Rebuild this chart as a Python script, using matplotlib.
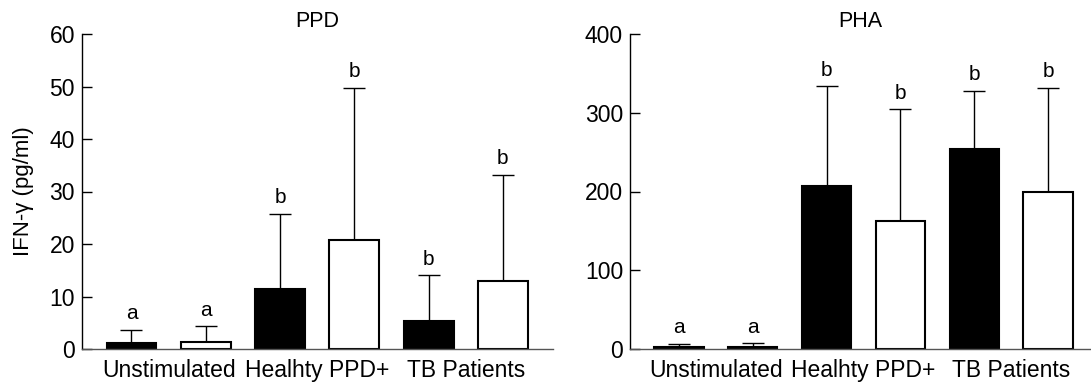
import matplotlib
matplotlib.use("Agg")
import matplotlib.pyplot as plt
import numpy as np

plt.rcParams['font.family'] = ['Liberation Sans', 'DejaVu Sans']

groups = ["Unstimulated", "Healhty PPD+", "TB Patients"]
ppd_means = [1.1, 1.3, 11.4, 20.8, 5.3, 13.0]
ppd_err_top = [3.7, 4.3, 25.8, 49.8, 14.1, 33.2]
pha_means = [2.0, 3.0, 207, 163, 254, 200]
pha_err_top = [6.8, 7.6, 334, 305, 328, 332]
letters_ppd = ["a", "a", "b", "b", "b", "b"]
letters_pha = ["a", "a", "b", "b", "b", "b"]
fills = ["black", "white", "black", "white", "black", "white"]

fig = plt.figure(figsize=(10.91, 3.83), dpi=100)
ax1 = fig.add_axes([82/1091, 34/383, 471/1091, 315/383])
ax2 = fig.add_axes([630/1091, 34/383, 461/1091, 315/383])

def draw(ax, means, tops, letters, title, yticks, ylim, xlim):
    x = np.arange(len(means))
    err = np.array(tops) - np.array(means)
    ax.bar(x, means, width=0.67, color=fills, edgecolor="black", linewidth=1.5, zorder=2)
    ax.errorbar(x, means, yerr=[np.zeros(len(means)), err], fmt="none",
                ecolor="black", elinewidth=1.0, capsize=8, capthick=1.0, zorder=1)
    for xi, t, l in zip(x, tops, letters):
        ax.annotate(l, (xi, t), xytext=(0, 4.5), textcoords="offset points",
                    ha="center", va="bottom", fontsize=15)
    ax.set_xlim(*xlim)
    ax.set_ylim(*ylim)
    ax.set_yticks(yticks)
    ax.set_xticks([0.5, 2.5, 4.5])
    ax.set_xticklabels(groups, fontsize=16.5)
    ax.tick_params(axis="x", length=0, pad=7)
    ax.tick_params(axis="y", direction="in", length=7, width=1, labelsize=16.5, pad=5)
    ax.spines["top"].set_visible(False)
    ax.spines["right"].set_visible(False)
    ax.spines["left"].set_linewidth(1.0)
    ax.spines["bottom"].set_linewidth(1.0)
    ax.spines["bottom"].set_color("#555555")
    ax.set_title(title, fontsize=15.5, pad=5)

draw(ax1, ppd_means, ppd_err_top, letters_ppd, "PPD", [0, 10, 20, 30, 40, 50, 60], (0, 60), (-0.666, 5.674))
draw(ax2, pha_means, pha_err_top, letters_pha, "PHA", [0, 100, 200, 300, 400], (0, 400), (-0.66, 5.58))
ax1.set_ylabel("IFN-γ (pg/ml)", fontsize=16, labelpad=11)

fig.savefig("out.png", dpi=100)
